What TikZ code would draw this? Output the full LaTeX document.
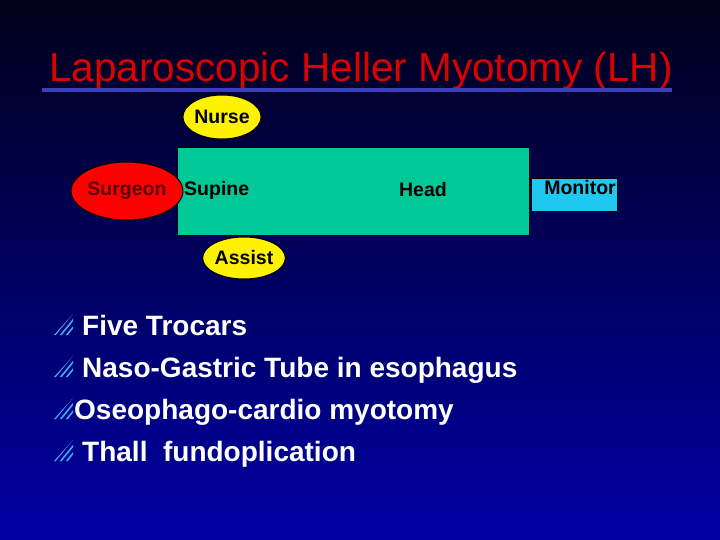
\documentclass[tikz,border=0pt]{standalone}
\usepackage{fontspec}
\setmainfont{Liberation Sans}
\usetikzlibrary{shapes.geometric}
\begin{document}
\begin{tikzpicture}[x=1pt,y=-1pt,
  lbl/.style={font=\bfseries\fontsize{19.5}{22}\selectfont},
  person/.style={ellipse,draw=black,line width=1pt,inner sep=0pt,lbl},
  btxt/.style={anchor=base west,text=white,font=\bfseries\fontsize{28}{32}\selectfont,inner sep=0pt},
  hatch/.style={draw={rgb,255:red,60;green,170;blue,255},line width=1.6pt}]
\definecolor{tbl}{RGB}{0,200,150}
\definecolor{mon}{RGB}{30,200,240}
\definecolor{ttl}{RGB}{220,0,0}
\definecolor{ul}{RGB}{60,60,190}
\shade[top color={rgb,255:red,0;green,0;blue,25},bottom color={rgb,255:red,0;green,0;blue,165}] (0,0) rectangle (720,540);
\useasboundingbox (0,0) rectangle (720,540);
\node[text=ttl,font=\fontsize{40.5}{44}\selectfont,anchor=base] (title) at (361,82) {Laparoscopic Heller Myotomy (LH)};
\draw[ul,line width=3.5pt] (42,90) -- (672,90);
\node[draw=black,line width=1pt,fill=tbl,minimum width=352,minimum height=88,anchor=north west,inner sep=0pt] (table) at (177,147) {};
\node[lbl,anchor=west,inner sep=0pt] (supine) at (184,190) {Supine};
\node[lbl] (head) at (423,190) {Head};
\node[person,fill=yellow,minimum width=58,minimum height=44] (nurse) at (222,117) {Nurse};
\node[person,fill=red,text={rgb,255:red,90;green,0;blue,0},minimum width=84,minimum height=58] (surgeon) at (127,191) {Surgeon};
\node[person,fill=yellow,minimum width=56,minimum height=42] (assist) at (244,258) {Assist};
\node[draw=black,line width=1pt,fill=mon,minimum width=86,minimum height=33,anchor=north west,inner sep=0pt] (monitor) at (531,178) {};
\node[lbl] (montext) at (580,188) {Monitor};
\foreach \y/\x/\t [count=\i] in {335/82/Five Trocars,377/82/Naso-Gastric Tube in esophagus,419/74/Oseophago-cardio myotomy,461/82/Thall\ \ fundoplication}{
  \node[btxt] (b\i) at (\x,\y) {\t};
  \begin{scope}[shift={(54,\y-21)}]
    \clip (0,21) -- (19,21) -- (19,0) -- cycle;
    \foreach \d in {0,6,12}{\draw[hatch] (\d,22) -- (\d+22,-5);}
  \end{scope}
}
\end{tikzpicture}
\end{document}
